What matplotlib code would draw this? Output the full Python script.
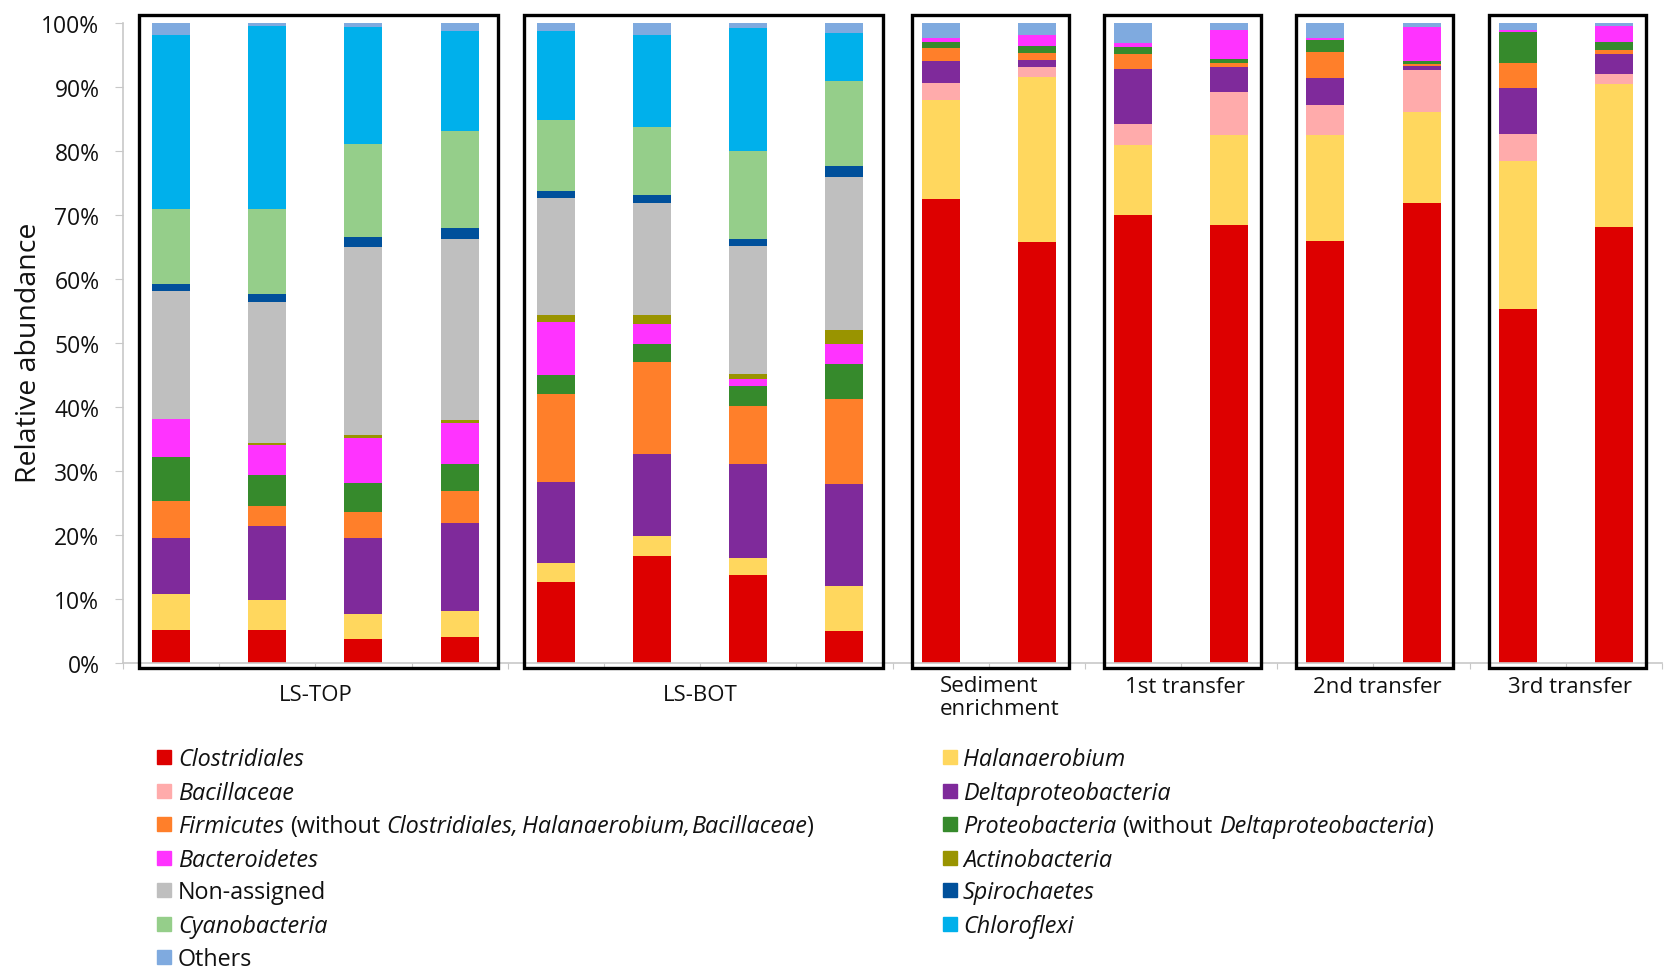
import matplotlib
matplotlib.use("Agg")
import matplotlib.pyplot as plt
from matplotlib.patches import Rectangle
from matplotlib.ticker import PercentFormatter
import numpy as np

plt.rcParams['font.family'] = 'Open Sans'

# samples, left to right, grouped by origin
group_names = ['LS-TOP', 'LS-BOT', 'Sediment\nenrichment', '1st transfer', '2nd transfer', '3rd transfer']
group_sizes = [4, 4, 2, 2, 2, 2]

# relative abundance (%) of each taxon in the 16 samples
clostridiales = [5.1, 5.1, 3.8, 4.1, 12.7, 16.7, 13.7, 5.0, 72.5, 65.8, 70.0, 68.5, 65.9, 71.8, 55.3, 68.2]
halanaerobium = [5.7, 4.7, 3.9, 4.1, 2.9, 3.2, 2.7, 7.0, 15.5, 25.7, 11.0, 14.0, 16.6, 14.3, 23.2, 22.3]
bacillaceae = [0, 0, 0, 0, 0, 0, 0, 0, 2.6, 1.7, 3.2, 6.7, 4.7, 6.6, 4.2, 1.5]
deltaproteobacteria = [8.7, 11.6, 11.8, 13.6, 12.7, 12.8, 14.7, 15.9, 3.5, 1.0, 8.6, 3.9, 4.2, 0.6, 7.2, 3.2]
firmicutes = [5.8, 3.1, 4.1, 5.1, 13.8, 14.4, 9.0, 13.3, 2.0, 1.1, 2.4, 0.6, 4.0, 0.3, 3.9, 0.6]
proteobacteria = [6.9, 4.9, 4.6, 4.2, 2.9, 2.7, 3.2, 5.5, 1.0, 1.1, 1.0, 0.7, 1.9, 0.5, 4.8, 1.2]
bacteroidetes = [5.9, 4.6, 7.0, 6.4, 8.3, 3.2, 1.1, 3.1, 0.5, 1.8, 0.6, 4.5, 0.3, 5.2, 0.3, 2.6]
actinobacteria = [0.1, 0.3, 0.5, 0.5, 1.1, 1.4, 0.8, 2.2, 0, 0, 0, 0, 0, 0, 0, 0]
non_assigned = [19.9, 22.1, 29.3, 28.3, 18.2, 17.5, 20.0, 24.0, 0, 0, 0, 0, 0, 0, 0, 0]
spirochaetes = [1.1, 1.2, 1.6, 1.6, 1.2, 1.2, 1.0, 1.7, 0, 0, 0, 0, 0, 0, 0, 0]
cyanobacteria = [11.8, 13.4, 14.5, 15.2, 11.1, 10.6, 13.8, 13.2, 0, 0, 0, 0, 0, 0, 0, 0]
chloroflexi = [27.2, 28.5, 18.3, 15.7, 13.9, 14.5, 19.2, 7.6, 0, 0, 0, 0, 0, 0, 0, 0]
others = [1.8, 0.5, 0.6, 1.2, 1.2, 1.8, 0.8, 1.5, 2.4, 1.8, 3.2, 1.1, 2.4, 0.7, 1.1, 0.4]

# stacking order, bottom to top: (values, colour, legend pieces)
# legend pieces: (text, italic, space before as multiple of a space width)
taxa = [
    (clostridiales, '#dd0000', [('Clostridiales', True, 0)]),
    (halanaerobium, '#ffd75e', [('Halanaerobium', True, 0)]),
    (bacillaceae, '#ffabab', [('Bacillaceae', True, 0)]),
    (deltaproteobacteria, '#7f2a9b', [('Deltaproteobacteria', True, 0)]),
    (firmicutes, '#ff7f2a', [('Firmicutes', True, 0), ('(without', False, 1),
                             ('Clostridiales,', True, 1), ('Halanaerobium,', True, 0.6),
                             ('Bacillaceae', True, 0.1), (')', False, 0)]),
    (proteobacteria, '#368a2c', [('Proteobacteria', True, 0), ('(without', False, 1),
                                 ('Deltaproteobacteria', True, 1), (')', False, 0)]),
    (bacteroidetes, '#ff33ff', [('Bacteroidetes', True, 0)]),
    (actinobacteria, '#999400', [('Actinobacteria', True, 0)]),
    (non_assigned, '#bfbfbf', [('Non-assigned', False, 0)]),
    (spirochaetes, '#00509b', [('Spirochaetes', True, 0)]),
    (cyanobacteria, '#95ce8a', [('Cyanobacteria', True, 0)]),
    (chloroflexi, '#00b0eb', [('Chloroflexi', True, 0)]),
    (others, '#7faadf', [('Others', False, 0)]),
]

W, H = 1664, 970
fig = plt.figure(figsize=(W / 100, H / 100), dpi=100)
ax = fig.add_axes([123 / W, 1 - 664 / H, 1539 / W, 640 / H])

x = np.arange(len(clostridiales))
bottom = np.zeros(len(x))
for vals, color, _ in taxa:
    ax.bar(x, vals, width=0.395, bottom=bottom, color=color, zorder=2)
    bottom += np.array(vals)

ax.set_xlim(-0.5, len(x) - 0.5)
ax.set_ylim(0, 100)
ax.set_yticks(np.arange(0, 101, 10))
ax.yaxis.set_major_formatter(PercentFormatter(decimals=0))
ax.set_xticks(np.arange(-0.5, len(x), 1))
ax.set_xticklabels([])
for s in ['top', 'right']:
    ax.spines[s].set_visible(False)
for s in ['left', 'bottom']:
    ax.spines[s].set_color('#c8c8c8')
    ax.spines[s].set_linewidth(1.2)
ax.tick_params(axis='y', length=6, color='#c8c8c8', labelsize=16.5, pad=11, labelcolor='#111111')
ax.tick_params(axis='x', length=4, color='#c8c8c8')

fig.text(29 / W, 1 - 353 / H, 'Relative abundance', rotation=90, ha='center', va='center',
         fontsize=20.5, color='#111111')

# frame around each sample group and its label underneath
xt = ax.get_xaxis_transform()
lab_size = 16
start = 0
for name, n in zip(group_names, group_sizes):
    pad_l, pad_r = (0.33, 0.40) if n == 4 else (0.30, 0.33)
    x0 = start - pad_l
    x1 = start + n - 1 + pad_r
    ax.add_patch(Rectangle((x0, -0.8), x1 - x0, 102.1, fill=False, lw=2.4,
                           edgecolor='black', clip_on=False, zorder=5))
    centre = start + (n - 1) / 2
    if '\n' in name:
        first, second = name.split('\n')
        ax.text(start - 0.01, -0.0438, first, transform=xt, ha='left', va='baseline',
                fontsize=lab_size, color='#111111')
        ax.text(start - 0.01, -0.0797, second, transform=xt, ha='left', va='baseline',
                fontsize=lab_size, color='#111111')
    elif n == 4:
        ax.text(centre, -0.0578, name, transform=xt, ha='center', va='baseline',
                fontsize=lab_size, color='#111111')
    else:
        ax.text(centre + 0.045, -0.0453, name, transform=xt, ha='center', va='baseline',
                fontsize=lab_size, color='#111111')
    start += n

# two-column legend with mixed italic / upright text
renderer = fig.canvas.get_renderer()
leg_size = 16.8
probe_a = fig.text(0, 0, 'x x', fontsize=leg_size)
probe_b = fig.text(0, 0, 'xx', fontsize=leg_size)
space_w = probe_a.get_window_extent(renderer).width - probe_b.get_window_extent(renderer).width
probe_a.remove()
probe_b.remove()

row_y = [766, 800, 833, 867, 899, 933, 966]
columns = [(157, 178), (943, 963)]
for i, (_, color, pieces) in enumerate(taxa):
    col, row = i % 2, i // 2
    px, tx = columns[col]
    base = row_y[row]
    fig.patches.append(Rectangle((px / W, 1 - (base - 1) / H), 14 / W, 14 / H, color=color,
                                 transform=fig.transFigure, figure=fig))
    cur = tx
    for text, italic, gap in pieces:
        cur += gap * space_w
        t = fig.text(cur / W, 1 - base / H, text, fontsize=leg_size, ha='left', va='baseline',
                     style='italic' if italic else 'normal', color='#111111')
        cur += t.get_window_extent(renderer).width

fig.savefig('out.png', dpi=100)
